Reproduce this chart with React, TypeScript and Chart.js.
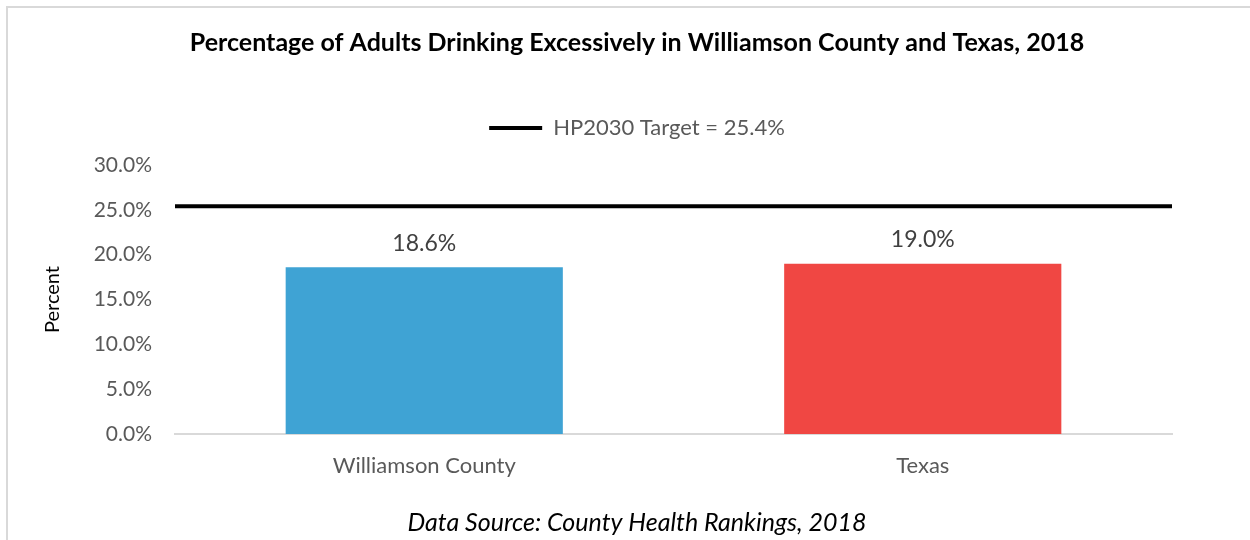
import React, { useEffect, useRef } from "react";
import { Chart, registerables } from "chart.js";

Chart.register(...registerables);

const categories = ["Williamson County", "Texas"];
const values = [18.6, 19.0];
const barColors = ["#3FA3D4", "#F04743"];
const target = 25.4;
const targetLabel = "HP2030 Target = 25.4%";
const yTicks = [0, 5, 10, 15, 20, 25, 30];
const titleText = "Percentage of Adults Drinking Excessively in Williamson County and Texas, 2018";
const footerText = "Data Source: County Health Rankings, 2018";
const FONT = "Lato, 'Liberation Sans', sans-serif";

const dataLabelPlugin = {
  id: "dataLabels",
  afterDatasetsDraw(chart: any) {
    const meta = chart.getDatasetMeta(0);
    const ctx = chart.ctx;
    ctx.save();
    ctx.font = `23px ${FONT}`;
    ctx.fillStyle = "#404040";
    ctx.textAlign = "center";
    ctx.textBaseline = "middle";
    meta.data.forEach((el: any, i: number) => {
      ctx.fillText(values[i].toFixed(1) + "%", el.x, el.y - 24);
    });
    ctx.restore();
  },
};

const legendSpacer = {
  id: "legendSpacer",
  beforeLayout(chart: any) {
    const lg = chart.legend;
    if (lg && !lg._spacerPatched) {
      const orig = lg.fit.bind(lg);
      lg.fit = function () {
        orig();
        this.height += 16;
      };
      lg._spacerPatched = true;
    }
  },
};

export default function App() {
  const ref = useRef<HTMLCanvasElement | null>(null);
  useEffect(() => {
    if (!ref.current) return;
    const chart = new Chart(ref.current, {
      type: "bar",
      data: {
        labels: categories,
        datasets: [
          {
            type: "bar",
            label: "Percent",
            data: values,
            backgroundColor: barColors,
            barPercentage: 1,
            categoryPercentage: 0.556,
            grouped: false,
            xAxisID: "x",
            yAxisID: "y",
            order: 2,
          } as any,
          {
            type: "line",
            label: targetLabel,
            data: [
              { x: -0.5, y: target },
              { x: 1.5, y: target },
            ],
            borderColor: "#000000",
            backgroundColor: "#000000",
            borderWidth: 4,
            pointRadius: 0,
            pointStyle: "line",
            xAxisID: "xl",
            yAxisID: "y",
            order: 1,
          } as any,
        ],
      },
      options: {
        responsive: false,
        animation: false,
        layout: { padding: { left: 24, right: 0, top: 0, bottom: 0 } },
        plugins: {
          tooltip: { enabled: false },
          title: {
            display: true,
            text: titleText,
            color: "#000000",
            font: { family: FONT, size: 25, weight: "bold" },
            padding: { top: 28, bottom: 39 },
          },
          subtitle: {
            display: true,
            position: "bottom",
            text: footerText,
            color: "#000000",
            font: { family: FONT, size: 25, style: "italic" },
            padding: { top: 24, bottom: 2 },
          },
          legend: {
            display: true,
            position: "top",
            labels: {
              filter: (item: any) => item.datasetIndex === 1,
              usePointStyle: true,
              pointStyleWidth: 53,
              boxHeight: 22,
              padding: 20,
              color: "#595959",
              font: { family: FONT, size: 22 },
            },
          },
        },
        scales: {
          x: {
            type: "category",
            grid: { display: false, drawTicks: false },
            border: { display: true, color: "#D9D9D9", width: 2 },
            ticks: { color: "#595959", font: { family: FONT, size: 22 }, padding: 19 },
            afterFit: (scale: any) => {
              scale.height = 50;
            },
          },
          xl: {
            type: "linear",
            display: false,
            offset: false,
            min: -0.5,
            max: 1.5,
          },
          y: {
            type: "linear",
            position: "left",
            min: 0,
            max: 30,
            grid: { display: false, drawTicks: false },
            border: { display: false },
            afterFit: (scale: any) => {
              scale.width = 151;
            },
            afterBuildTicks: (scale: any) => {
              scale.ticks = yTicks.map((v) => ({ value: v }));
            },
            ticks: {
              color: "#595959",
              font: { family: FONT, size: 21 },
              padding: 23,
              callback: (v: any) => Number(v).toFixed(1) + "%",
            },
            title: {
              display: true,
              text: "Percent",
              color: "#000000",
              font: { family: FONT, size: 20 },
              padding: { top: 17, bottom: 0 },
            },
          },
          yr: {
            type: "linear",
            position: "right",
            display: true,
            min: 0,
            max: 30,
            grid: { display: false, drawTicks: false },
            border: { display: false },
            ticks: { display: false },
            afterFit: (scale: any) => {
              scale.width = 78;
            },
          },
        },
      },
      plugins: [dataLabelPlugin, legendSpacer],
    });
    return () => chart.destroy();
  }, []);

  return (
    <div style={{ position: "fixed", left: 0, top: 0, width: 1250, height: 540, overflow: "hidden", background: "#fff" }}>
      <div
        style={{
          position: "absolute",
          left: 6,
          top: 6,
          width: 1300,
          height: 600,
          border: "2px solid #D9D9D9",
          boxSizing: "border-box",
        }}
      />
      <canvas ref={ref} width={1250} height={540} style={{ position: "absolute", left: 0, top: 0 }} />
    </div>
  );
}
